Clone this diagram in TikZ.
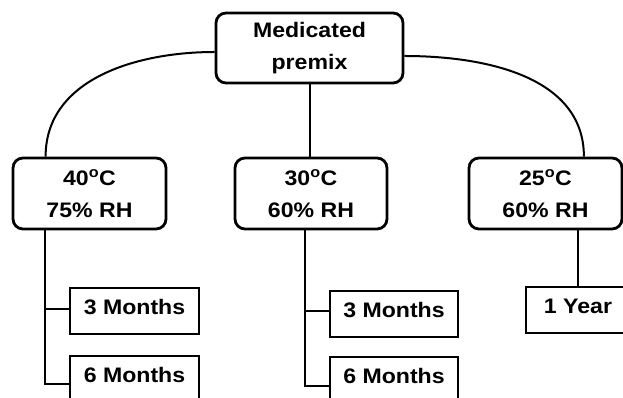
\documentclass[tikz,border=0pt]{standalone}
\usepackage{fontspec}
\setmainfont{Liberation Sans}[FakeStretch=1.1]
\usetikzlibrary{calc, positioning}

\begin{document}
\begin{tikzpicture}[x=1pt, y=1pt,
        condbox/.style={draw, line width=2.8pt, rounded corners=10pt, align=center,
                        font=\fontsize{21}{32}\selectfont\bfseries, inner sep=0pt},
        timebox/.style={draw, line width=2.8pt, font=\fontsize{21}{32}\selectfont\bfseries,
                        inner sep=0pt, text height=15pt, text depth=8pt},
        link/.style={line width=2pt}]
    \useasboundingbox (0,0) rectangle (623,398);
    \clip (0,0) rectangle (623,398);

    % Top
    \node[condbox, minimum width=187pt, minimum height=70pt] (premix) at (309.5,350) {Medicated\\premix};

    % Storage conditions
    \node[condbox, minimum width=153pt, minimum height=71pt] (t40) at (89.5,204.5) {40\textsuperscript{o}C\\75\% RH};
    \node[condbox, minimum width=152pt, minimum height=71pt] (t30) at (311,204.5) {30\textsuperscript{o}C\\60\% RH};
    \node[condbox, minimum width=153pt, minimum height=71pt] (t25) at (545.5,204.5) {25\textsuperscript{o}C\\60\% RH};

    % Time points
    \node[timebox, minimum width=129pt, minimum height=46pt] (a3) at (134.5,87) {3 Months};
    \node[timebox, minimum width=129pt, minimum height=46pt] (a6) at (134.5,19) {6 Months};
    \node[timebox, minimum width=128pt, minimum height=46pt] (b3) at (394,84) {3 Months};
    \node[timebox, minimum width=128pt, minimum height=46pt] (b6) at (394,18) {6 Months};
    \node[timebox, minimum width=104pt, minimum height=46pt] (c1) at (578,88) {1 Year};

    % Branches from the premix
    \draw[link] ([yshift=-4pt]premix.west) to[out=180, in=90] ([xshift=34pt]t40.north west);
    \draw[link] (premix.south) -- (premix.south |- t30.north);
    \draw[link] ([yshift=-8pt]premix.east) to[out=0, in=90] ([xshift=-39.5pt]t25.north east);

    % Spines
    \coordinate (s40) at ([xshift=-44.5pt]t40.south);
    \coordinate (s30) at ([xshift=-6pt]t30.south);
    \draw[link] (s40) |- ([yshift=-5pt]a6.west);
    \draw[link] (s40 |- a3.west) ++(0,2) -- ([yshift=2pt]a3.west);
    \draw[link] (s30) |- ([yshift=-6pt]b6.west);
    \draw[link] (s30 |- b3.west) ++(0,3) -- ([yshift=3pt]b3.west);
    \draw[link] (t25.south -| c1.north) -- (c1.north);
\end{tikzpicture}
\end{document}
